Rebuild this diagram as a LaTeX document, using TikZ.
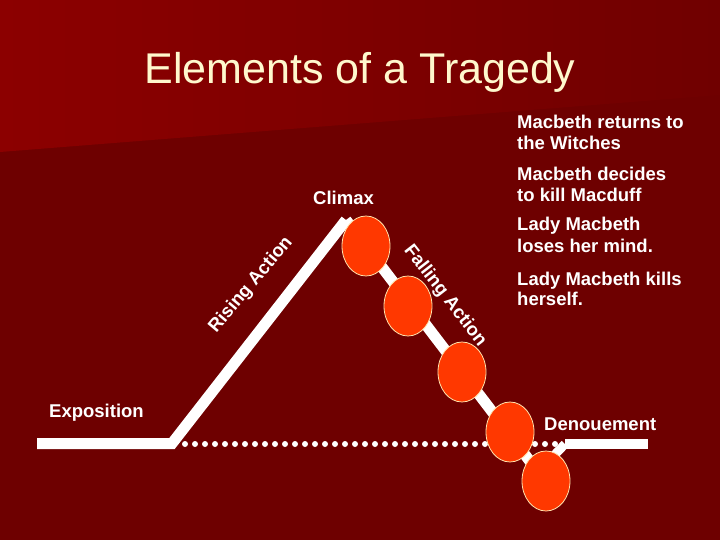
\documentclass[tikz,border=0pt]{standalone}
\usepackage{fontspec}
\setmainfont{Liberation Sans}
\usetikzlibrary{shapes.geometric}
\definecolor{bglow}{RGB}{110,0,0}
\definecolor{bgtopL}{RGB}{140,0,0}
\definecolor{bgtopR}{RGB}{112,0,0}
\definecolor{titlecream}{RGB}{255,248,205}
\definecolor{ovalred}{RGB}{255,56,0}
\definecolor{ovalrim}{RGB}{255,225,170}
\begin{document}
\begin{tikzpicture}[x=1pt,y=-1pt,
  lbl/.style={text=white,font=\bfseries\fontsize{18.5}{21}\selectfont,inner sep=0pt},
  plotline/.style={draw=white,line width=11pt},
  event/.style={ellipse,fill=ovalred,draw=ovalrim,line width=0.8pt,minimum width=48pt,minimum height=60pt,inner sep=0pt}]
\useasboundingbox (0,0) rectangle (720,540);
% background
\fill[bglow] (0,0) rectangle (720,540);
\shade[left color=bgtopL,right color=bgtopR] (0,0) -- (720,0) -- (720,95) -- (0,152) -- cycle;
% title
\node[anchor=base,text=titlecream,font=\fontsize{43}{50}\selectfont,inner sep=0pt] (title) at (360,84) {Elements of a Tragedy};
% plot coordinates
\coordinate (L0) at (37,443.5);
\coordinate (L1) at (172,443.5);
\coordinate (peak) at (346,220);
\coordinate (fend) at (545,481);
\coordinate (r0) at (565,444);
\coordinate (r1) at (648,444);
\coordinate (j5) at (540,470);
% dotted baseline
\foreach \i in {0,...,37} \fill[white] ({185+10*\i},444) circle (3pt);
% lines
\draw[plotline] (L0) -- (L1) -- (peak);
\draw[plotline] (peak) -- (fend);
\draw[plotline,line width=9pt] (j5) -- (r0);
\draw[plotline,line width=10pt] (r0) -- (r1);
% ovals
\node[event] (o1) at (366,246) {};
\node[event] (o2) at (408,306) {};
\node[event] (o3) at (462,372) {};
\node[event] (o4) at (510,432) {};
\node[event] (o5) at (546,481) {};
% labels
\node[lbl,anchor=base west] (expo) at (49,417) {Exposition};
\node[lbl,anchor=base west] (climax) at (313,205) {Climax};
\node[lbl,anchor=base west] (denoue) at (544,430) {Denouement};
\node[lbl,rotate=50] (rise) at (251,285) {Rising Action};
\node[lbl,rotate=-52] (fall) at (445,296) {Falling Action};
% events list
\node[lbl,anchor=base west] (e1a) at (517,129) {Macbeth returns to};
\node[lbl,anchor=base west] (e1b) at (517,150) {the Witches};
\node[lbl,anchor=base west] (e2a) at (517,181) {Macbeth decides};
\node[lbl,anchor=base west] (e2b) at (517,202) {to kill Macduff};
\node[lbl,anchor=base west] (e3a) at (517,230) {Lady Macbeth};
\node[lbl,anchor=base west] (e3b) at (517,252) {loses her mind.};
\node[lbl,anchor=base west] (e4a) at (517,285) {Lady Macbeth kills};
\node[lbl,anchor=base west] (e4b) at (517,305) {herself.};
\end{tikzpicture}
\end{document}
